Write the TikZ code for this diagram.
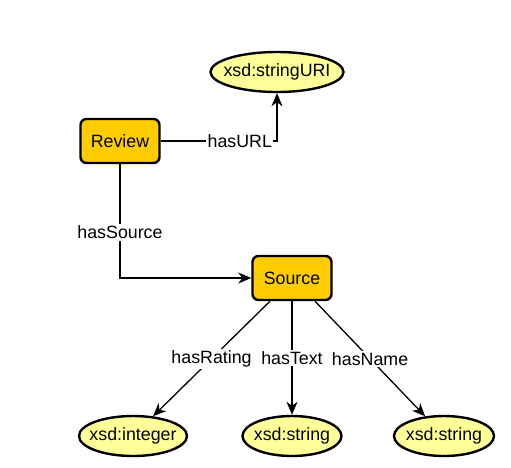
\documentclass[tikz,border=0pt]{standalone}
\usepackage{fontspec}
\setmainfont{Liberation Sans}
\usetikzlibrary{arrows.meta,calc,shapes.geometric}
\definecolor{boxfill}{HTML}{FFCC00}
\definecolor{ellfill}{HTML}{FFFF99}
\begin{document}
\begin{tikzpicture}[x=1pt,y=-1pt,
 txt/.style={font=\fontsize{17.8}{21}\selectfont},
 cls/.style={txt, draw, line width=2.4pt, fill=boxfill, rounded corners=6pt, minimum width=79pt, minimum height=44pt, inner sep=0pt},
 lit/.style={txt, draw, ellipse, line width=2.4pt, fill=ellfill, inner xsep=-12pt, inner ysep=0pt, minimum height=40pt},
 rel/.style={line width=1.3pt},
 arr/.style={rel, -{Stealth[length=13pt,width=11pt,inset=4pt]}},
 lbl/.style={txt, fill=white, inner sep=1.5pt}]
\useasboundingbox (0,0) rectangle (511,467);
\node[cls] (rev) at (120,141) {Review};
\node[lit, minimum width=133pt] (uri) at (277,72) {xsd:stringURI};
\node[cls] (src) at (292,278) {Source};
\node[lit, minimum width=108pt] (int) at (133,436) {xsd:integer};
\node[lit, minimum width=99pt] (str1) at (292,436) {xsd:string};
\node[lit, minimum width=100pt] (str2) at (444,436) {xsd:string};
\draw[arr] (rev.east) -| (uri.south) node[pos=0.34,lbl] {hasURL};
\draw[arr] (rev.south) |- (src.west) node[pos=0.3,lbl] {hasSource};
\draw[arr] ($(src.south)+(-22,0)$) -- (int) node[midway,lbl] {hasRating};
\draw[arr] (src.south) -- (str1.north) node[midway,lbl] {hasText};
\draw[arr] ($(src.south)+(23,0)$) -- (str2) node[midway,lbl] {hasName};
\end{tikzpicture}
\end{document}
